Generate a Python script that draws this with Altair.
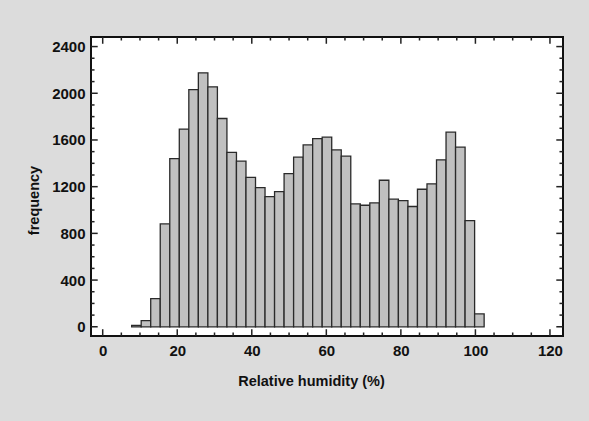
import altair as alt
import numpy as np
import pandas as pd

# Histogram counts, 37 bins of equal width
counts = [12, 52, 241, 881, 1441, 1693, 2032, 2175, 2055, 1784, 1493, 1418, 1280,
          1192, 1115, 1158, 1312, 1453, 1558, 1612, 1624, 1515, 1461, 1052, 1041,
          1061, 1255, 1093, 1081, 1030, 1178, 1224, 1430, 1667, 1538, 910, 110]
bin_start = 7.77
bin_width = 2.556

x_major = [0, 20, 40, 60, 80, 100, 120]
x_minor = [v for v in range(5, 120, 5) if v % 20 != 0]
y_major = [0, 400, 800, 1200, 1600, 2000, 2400]
y_minor = [v for v in range(100, 2400, 100) if v % 400 != 0]

X_DOM = [-3.14, 123.5]
Y_DOM = [-79, 2482]

edges = bin_start + bin_width * np.arange(len(counts) + 1)
bars_df = pd.DataFrame({"x0": edges[:-1], "x1": edges[1:], "count": counts, "base": 0})

# inward tick marks on all four sides
rows = []
xmaj_len, xmin_len = 58, 30      # in y data units
ymaj_len, ymin_len = 1.8, 0.95   # in x data units
for v in x_major + x_minor:
    L = xmaj_len if v in x_major else xmin_len
    rows.append({"x": v, "x2": v, "y": Y_DOM[0], "y2": Y_DOM[0] + L})
    rows.append({"x": v, "x2": v, "y": Y_DOM[1], "y2": Y_DOM[1] - L})
for v in y_major + y_minor:
    L = ymaj_len if v in y_major else ymin_len
    rows.append({"x": X_DOM[0], "x2": X_DOM[0] + L, "y": v, "y2": v})
    rows.append({"x": X_DOM[1], "x2": X_DOM[1] - L, "y": v, "y2": v})
ticks_df = pd.DataFrame(rows)

FONT = "Liberation Sans"

xscale = alt.Scale(domain=X_DOM, nice=False, zero=False)
yscale = alt.Scale(domain=Y_DOM, nice=False, zero=False)

bars = alt.Chart(bars_df).mark_bar(
    fill="#c0c0c0", stroke="#2a2a2a", strokeWidth=1.3
).encode(
    x=alt.X("x0:Q", scale=xscale,
            axis=alt.Axis(values=x_major, ticks=False, domain=False, grid=False,
                          format="d", title="Relative humidity (%)", labelPadding=7,
                          titlePadding=16, titleX=220)),
    x2="x1:Q",
    y=alt.Y("count:Q", scale=yscale,
            axis=alt.Axis(values=y_major, ticks=False, domain=False, grid=False,
                          format="d", title="frequency", labelPadding=6,
                          titlePadding=10, titleY=163)),
    y2="base:Q",
)

ticks = alt.Chart(ticks_df).mark_rule(color="#222222", strokeWidth=1.5).encode(
    x="x:Q", x2="x2:Q", y="y:Q", y2="y2:Q"
)

chart = alt.layer(bars, ticks).properties(
    width=472, height=299,
    autosize=alt.AutoSizeParams(type="none"),
    padding={"left": 91, "top": 37, "right": 26, "bottom": 85},
    background="#dcdcdc",
).configure_view(
    fill="white", stroke="#111111", strokeWidth=2
).configure_axis(
    labelFont=FONT, labelFontSize=15, labelFontWeight="bold", labelColor="#111111",
    titleFont=FONT, titleFontSize=14.5, titleFontWeight="bold", titleColor="#111111",
)

chart.save("out.html", embed_options={"renderer": "svg", "actions": False})
